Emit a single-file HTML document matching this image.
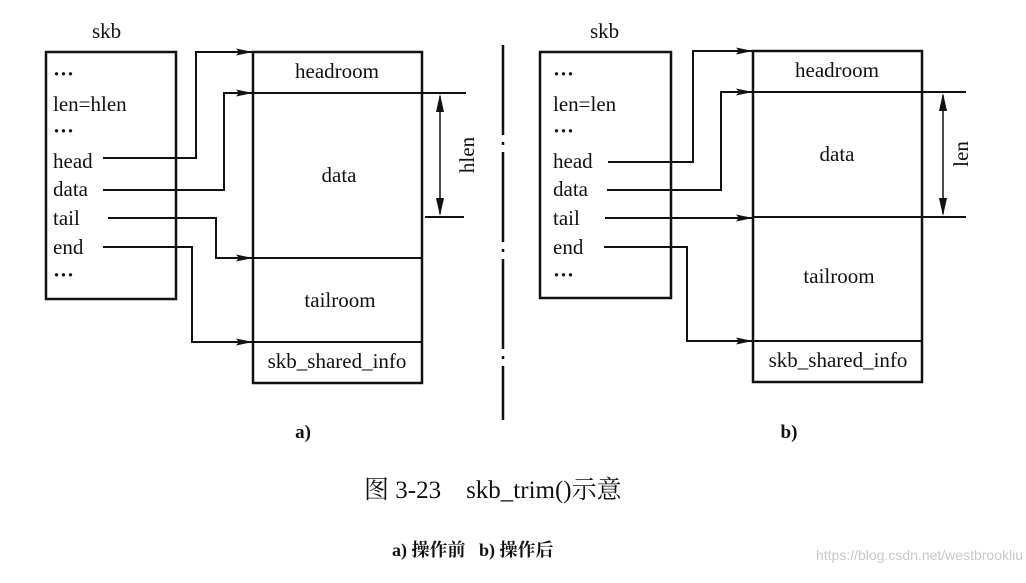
<!DOCTYPE html>
<html><head><meta charset="utf-8"><style>
html,body{margin:0;padding:0;background:#fff;width:1026px;height:583px;overflow:hidden}
text{font-family:"Liberation Serif","Noto Serif CJK SC",serif;fill:#111;white-space:pre}
</style></head><body>
<svg width="1026" height="583" viewBox="0 0 1026 583" xmlns="http://www.w3.org/2000/svg" xml:space="preserve">
<defs><marker id="a" markerWidth="18" markerHeight="8" refX="17" refY="4" orient="auto" markerUnits="userSpaceOnUse"><path d="M0,0.5 L17,4 L0,7.5 L3,4z" fill="#111"/></marker></defs>
<g stroke="#111" fill="none" stroke-width="2">
<rect x="46" y="52" width="130" height="247" stroke-width="2.5"/>
<rect x="253" y="52" width="169" height="331" stroke-width="2.5"/>
<line x1="253" y1="93" x2="466" y2="93"/>
<line x1="253" y1="258" x2="422" y2="258"/>
<line x1="253" y1="342" x2="422" y2="342"/>
<line x1="425" y1="217" x2="464" y2="217"/>
<line x1="440" y1="96" x2="440" y2="214" stroke-width="1.5"/>
<path d="M440,94 l-4,18 h8z M440,216 l-4,-18 h8z" fill="#111" stroke="none"/>
<polyline points="103,158 196,158 196,52 253,52" marker-end="url(#a)"/>
<polyline points="103,190 224,190 224,93 253,93" marker-end="url(#a)"/>
<polyline points="108,218 216,218 216,258 253,258" marker-end="url(#a)"/>
<polyline points="103,247 192,247 192,342 253,342" marker-end="url(#a)"/>
<rect x="540" y="52" width="131" height="246" stroke-width="2.5"/>
<rect x="753" y="51" width="169" height="331" stroke-width="2.5"/>
<line x1="753" y1="92" x2="966" y2="92"/>
<line x1="753" y1="217" x2="966" y2="217"/>
<line x1="753" y1="341" x2="922" y2="341"/>
<line x1="943" y1="95" x2="943" y2="214" stroke-width="1.5"/>
<path d="M943,93 l-4,18 h8z M943,216 l-4,-18 h8z" fill="#111" stroke="none"/>
<polyline points="608,162 693,162 693,51 753,51" marker-end="url(#a)"/>
<polyline points="607,190 721,190 721,92 753,92" marker-end="url(#a)"/>
<polyline points="605,218 753,218" marker-end="url(#a)"/>
<polyline points="604,247 687,247 687,341 753,341" marker-end="url(#a)"/>
<line x1="503" y1="45" x2="503" y2="420" stroke-width="2.5" stroke-dasharray="90,7,3,7"/>
</g>
<g font-size="21">
<text x="92" y="38">skb</text>
<text x="53" y="81" font-weight="bold">···</text><text x="53" y="111">len=hlen</text><text x="53" y="138" font-weight="bold">···</text>
<text x="53" y="168">head</text><text x="53" y="196">data</text><text x="53" y="225">tail</text>
<text x="53" y="254">end</text><text x="53" y="282" font-weight="bold">···</text>
<text x="337" y="78" text-anchor="middle">headroom</text>
<text x="339" y="182" text-anchor="middle">data</text>
<text x="340" y="307" text-anchor="middle">tailroom</text>
<text x="337" y="368" text-anchor="middle">skb_shared_info</text>
<text transform="translate(474,155) rotate(-90)" text-anchor="middle">hlen</text>
<text x="590" y="38">skb</text>
<text x="553" y="81" font-weight="bold">···</text><text x="553" y="111">len=len</text><text x="553" y="138" font-weight="bold">···</text>
<text x="553" y="168">head</text><text x="553" y="196">data</text><text x="553" y="225">tail</text>
<text x="553" y="254">end</text><text x="553" y="282" font-weight="bold">···</text>
<text x="837" y="77" text-anchor="middle">headroom</text>
<text x="837" y="161" text-anchor="middle">data</text>
<text x="839" y="283" text-anchor="middle">tailroom</text>
<text x="838" y="367" text-anchor="middle">skb_shared_info</text>
<text transform="translate(968,154) rotate(-90)" text-anchor="middle">len</text>
<text x="303" y="438" text-anchor="middle" font-weight="bold" font-size="19">a)</text>
<text x="789" y="438" text-anchor="middle" font-weight="bold" font-size="19">b)</text>
</g>
<text x="364" y="498" font-size="25">图 3-23    skb_trim()示意</text>
<text x="392" y="556" font-size="18" font-weight="bold">a) 操作前   b) 操作后</text>
<text x="1023" y="560" font-size="14" text-anchor="end" style="fill:#c8c8c8;font-family:'Liberation Sans',sans-serif">https://blog.csdn.net/westbrookliu</text>
</svg>
</body></html>
